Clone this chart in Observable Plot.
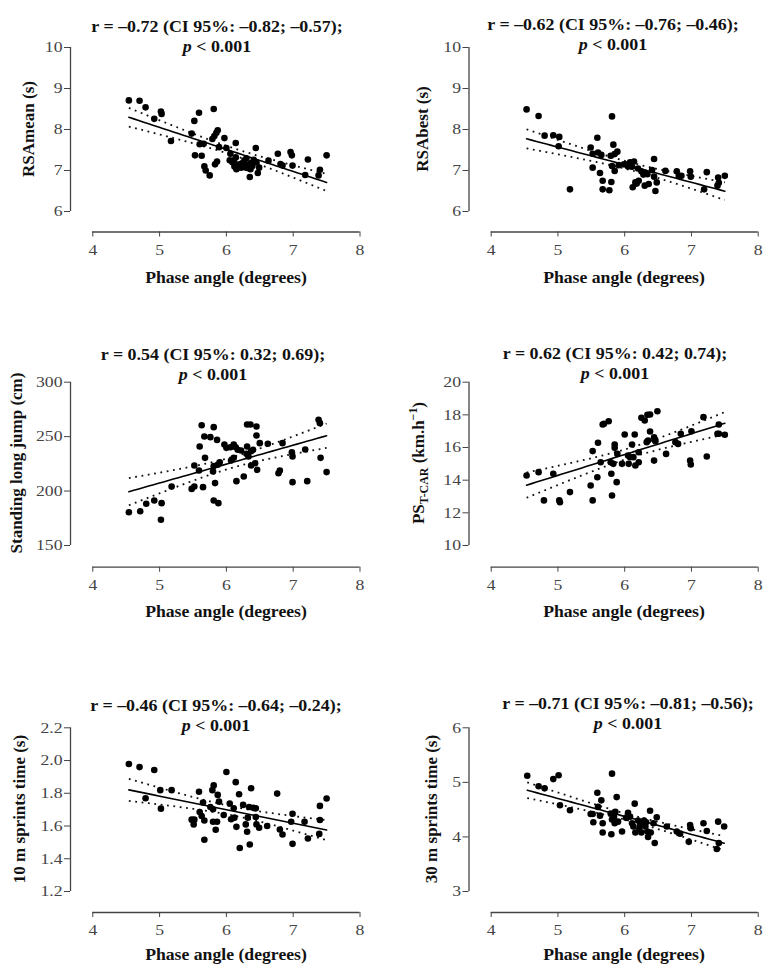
<!DOCTYPE html>
<html>
<head>
<meta charset="utf-8">
<script src="https://cdn.jsdelivr.net/npm/d3@7"></script>
<script src="https://cdn.jsdelivr.net/npm/@observablehq/plot@0.6"></script>
<style>
  html, body { margin: 0; padding: 0; background: #fff; }
  #root { position: relative; width: 777px; height: 975px; overflow: hidden;
          font-family: "Liberation Serif", "Times New Roman", serif; color: #111; }
  .panel { position: absolute; }
  .panel svg text { font-family: "Liberation Serif", "Times New Roman", serif; }
  .title { position: absolute; font-weight: bold; font-size: 16px; line-height: 20px;
           text-align: center; white-space: nowrap; transform: translateX(-50%) scaleX(1.12); }
  .ylab { position: absolute; font-weight: bold; font-size: 17px; white-space: nowrap;
          transform: translate(-50%, -50%) rotate(-90deg); }
  .xlab { position: absolute; font-weight: bold; font-size: 17px; white-space: nowrap;
          transform: translate(-50%, -50%) scaleX(1.04); }
  sub { font-size: 70%; vertical-align: -0.3em; }
  sup { font-size: 70%; vertical-align: 0.6em; }
</style>
</head>
<body>
<div id="root"></div>
<script>
// ---------- data ----------
const xTicks = [4, 5, 6, 7, 8];
const xLabel = "Phase angle (degrees)";

const rsaMean = [[4.54,8.71],[4.70,8.70],[4.79,8.54],[4.92,8.26],[5.02,8.44],[5.03,8.38],[5.17,7.72],[5.48,7.90],[5.52,8.21],[5.59,8.41],[5.81,8.50],[5.53,7.37],[5.63,7.36],[5.60,7.64],[5.66,7.65],[5.67,7.10],[5.69,7.00],[5.75,6.88],[5.79,7.77],[5.82,7.84],[5.85,7.92],[5.87,7.98],[5.83,7.15],[5.86,7.22],[5.89,7.57],[5.97,7.79],[6.00,7.55],[6.06,7.41],[6.05,7.25],[6.11,7.24],[6.14,7.32],[6.14,7.67],[6.15,7.03],[6.19,7.15],[6.22,7.07],[6.27,7.25],[6.30,7.30],[6.31,7.14],[6.31,7.06],[6.35,6.84],[6.37,7.18],[6.39,7.11],[6.41,7.26],[6.44,7.55],[6.45,7.20],[6.47,6.94],[6.49,7.07],[6.63,7.24],[6.77,7.41],[6.81,7.16],[6.84,7.12],[6.96,7.45],[6.98,7.37],[6.99,7.12],[7.18,6.89],[7.22,7.27],[7.38,6.88],[7.40,7.02],[7.50,7.37],[6.09,7.20],[6.24,7.18],[6.28,7.08],[6.36,7.03],[6.12,7.10]];

const rsaBest = [[4.53,8.49],[4.71,8.33],[4.80,7.85],[4.93,7.86],[5.02,7.82],[5.01,7.59],[5.18,6.54],[5.49,7.56],[5.52,7.41],[5.59,7.80],[5.60,7.44],[5.65,7.38],[5.52,7.07],[5.63,6.94],[5.67,6.75],[5.67,6.54],[5.77,6.52],[5.80,6.72],[5.81,8.32],[5.83,7.63],[5.79,7.36],[5.85,7.40],[5.89,7.46],[5.81,7.11],[5.85,6.99],[5.91,7.13],[5.99,7.15],[6.04,7.15],[6.08,7.20],[6.14,7.22],[6.11,7.09],[6.12,6.59],[6.16,6.71],[6.21,6.75],[6.25,6.98],[6.30,6.95],[6.34,6.91],[6.30,6.63],[6.36,6.67],[6.44,7.28],[6.41,7.01],[6.44,6.85],[6.48,6.71],[6.46,6.50],[6.61,6.99],[6.78,6.98],[6.81,6.87],[6.85,6.87],[6.98,6.98],[6.99,6.85],[7.19,6.54],[7.23,6.96],[7.40,6.83],[7.39,6.63],[7.41,6.70],[7.50,6.87],[6.20,7.05],[6.05,7.10],[6.28,6.90],[6.18,6.68]];

const standingLongJump = [[4.54,180.6],[4.71,181.5],[4.80,188.3],[4.92,191.3],[5.03,188.9],[5.02,173.6],[5.18,204.2],[5.48,202.0],[5.52,204.2],[5.52,223.5],[5.59,218.9],[5.60,240.9],[5.63,260.5],[5.67,250.1],[5.68,230.5],[5.65,203.6],[5.76,249.5],[5.81,258.7],[5.86,247.0],[5.80,218.0],[5.81,222.9],[5.83,207.3],[5.81,191.3],[5.88,188.9],[5.87,224.1],[5.90,226.5],[5.97,242.8],[6.00,239.7],[6.06,240.3],[6.11,242.8],[6.14,240.3],[6.17,237.9],[6.22,237.3],[6.07,228.1],[6.11,230.5],[6.15,209.1],[6.26,213.4],[6.31,261.1],[6.36,261.1],[6.45,259.3],[6.45,251.0],[6.31,240.9],[6.30,234.2],[6.37,236.6],[6.40,237.9],[6.33,231.7],[6.37,223.5],[6.43,225.6],[6.46,219.5],[6.50,244.0],[6.62,243.4],[6.78,216.4],[6.80,218.9],[6.84,244.0],[6.98,235.7],[6.99,231.7],[6.99,208.2],[7.18,238.2],[7.21,209.1],[7.38,265.4],[7.40,262.4],[7.41,230.5],[7.50,217.4]];

const psTCar = [[4.53,14.29],[4.71,14.49],[4.79,12.76],[4.93,14.39],[5.02,12.76],[5.03,12.65],[5.18,13.27],[5.49,13.67],[5.52,12.76],[5.52,15.78],[5.59,14.18],[5.60,16.29],[5.64,15.10],[5.67,17.41],[5.69,17.45],[5.76,17.61],[5.79,15.10],[5.80,14.39],[5.81,13.06],[5.83,15.00],[5.85,16.18],[5.85,15.98],[5.89,15.61],[5.88,13.88],[5.96,15.00],[6.00,16.80],[6.05,15.51],[6.06,15.00],[6.13,15.41],[6.11,16.18],[6.15,16.80],[6.16,14.90],[6.21,15.10],[6.21,15.71],[6.25,17.82],[6.30,17.65],[6.34,18.00],[6.38,18.02],[6.35,16.43],[6.33,16.33],[6.38,16.98],[6.44,16.63],[6.45,16.49],[6.46,16.39],[6.44,15.20],[6.49,18.22],[6.62,15.61],[6.76,16.33],[6.80,16.22],[6.84,16.84],[7.00,17.00],[6.98,15.20],[6.99,14.96],[7.18,17.86],[7.23,15.45],[7.41,17.41],[7.39,16.84],[7.41,16.84],[7.50,16.78],[6.08,15.40]];

const sprint10 = [[4.54,1.979],[4.70,1.960],[4.79,1.770],[4.92,1.942],[5.01,1.819],[5.02,1.706],[5.18,1.819],[5.48,1.639],[5.51,1.610],[5.52,1.639],[5.59,1.809],[5.60,1.686],[5.63,1.661],[5.65,1.743],[5.67,1.634],[5.67,1.516],[5.76,1.716],[5.79,1.819],[5.81,1.848],[5.80,1.702],[5.80,1.626],[5.84,1.577],[5.86,1.626],[5.87,1.790],[5.89,1.749],[5.96,1.667],[6.00,1.930],[6.05,1.737],[6.07,1.641],[6.11,1.708],[6.12,1.651],[6.14,1.868],[6.15,1.595],[6.19,1.794],[6.20,1.466],[6.25,1.729],[6.29,1.610],[6.31,1.565],[6.32,1.651],[6.34,1.716],[6.37,1.831],[6.35,1.487],[6.40,1.712],[6.44,1.708],[6.44,1.655],[6.45,1.610],[6.49,1.589],[6.61,1.600],[6.76,1.798],[6.80,1.579],[6.84,1.548],[6.99,1.675],[6.97,1.626],[6.99,1.491],[7.17,1.626],[7.22,1.524],[7.39,1.552],[7.40,1.723],[7.40,1.637],[7.50,1.768]];

const sprint30 = [[4.54,5.12],[4.71,4.93],[4.80,4.89],[4.93,5.06],[5.01,5.13],[5.03,4.58],[5.18,4.49],[5.49,4.42],[5.52,4.42],[5.53,4.27],[5.59,4.81],[5.60,4.55],[5.65,4.67],[5.63,4.39],[5.67,4.25],[5.67,4.08],[5.80,4.05],[5.81,5.16],[5.79,4.43],[5.81,4.32],[5.84,4.37],[5.86,4.46],[5.88,4.73],[5.85,4.25],[5.90,4.28],[5.96,4.10],[6.05,4.44],[6.08,4.37],[6.11,4.25],[6.15,4.61],[6.13,4.19],[6.16,4.08],[6.20,4.30],[6.23,4.22],[6.25,4.08],[6.29,4.30],[6.31,4.19],[6.34,4.10],[6.35,4.00],[6.38,4.48],[6.39,4.08],[6.43,4.25],[6.45,3.89],[6.48,4.36],[6.63,4.19],[6.78,4.10],[6.83,4.06],[6.98,4.22],[6.99,4.16],[6.96,3.91],[7.18,4.25],[7.23,4.11],[7.40,4.28],[7.41,3.89],[7.38,3.78],[7.49,4.19],[6.02,4.35],[6.22,4.15],[6.32,4.27]];

const yTicksRsaMean = [6, 7, 8, 9, 10];
const yTicksRsaBest = [6, 7, 8, 9, 10];
const yTicksSlj = [150, 200, 250, 300];
const yTicksPs = [10, 12, 14, 16, 18, 20];
const yTicksSprint10 = [1.2, 1.4, 1.6, 1.8, 2.0, 2.2];
const yTicksSprint30 = [3, 4, 5, 6];

const titles = [
  "r = –0.72 (CI 95%: –0.82; –0.57);",
  "r = –0.62 (CI 95%: –0.76; –0.46);",
  "r = 0.54 (CI 95%: 0.32; 0.69);",
  "r = 0.62 (CI 95%: 0.42; 0.74);",
  "r = –0.46 (CI 95%: –0.64; –0.24);",
  "r = –0.71 (CI 95%: –0.81; –0.56);"
];
const pLine = "<i>p</i> &lt; 0.001";
const yLabels = [
  "RSAmean (s)",
  "RSAbest (s)",
  "Standing long jump (cm)",
  "PS<sub>T-CAR</sub> (km.h<sup>−1</sup>)",
  "10 m sprints time (s)",
  "30 m sprints time (s)"
];

// ---------- layout (page pixels) ----------
const cols = [
  {left: 0,   x4: 92.3,  x8: 359.5, yAxis: 70},
  {left: 389, x4: 490.7, x8: 757.7, yAxis: 468.5}
];
const rows = [
  {top: 0,   yTop: 47,    yBot: 211, xAxis: 231.5, xLab: 278},
  {top: 300, yTop: 381.7, yBot: 545, xAxis: 566.7, xLab: 612},
  {top: 645, yTop: 727.3, yBot: 891, xAxis: 912,   xLab: 955}
];
const panels = [
  {data: rsaMean, ticks: yTicksRsaMean, fmt: "d", col: 0, row: 0, tx: 217, ty: 17, lx: 29},
  {data: rsaBest, ticks: yTicksRsaBest, fmt: "d", col: 1, row: 0, tx: 613, ty: 15, lx: 423},
  {data: standingLongJump, ticks: yTicksSlj, fmt: "d", col: 0, row: 1, tx: 213, ty: 345, lx: 17},
  {data: psTCar, ticks: yTicksPs, fmt: "d", col: 1, row: 1, tx: 615, ty: 344, lx: 419},
  {data: sprint10, ticks: yTicksSprint10, fmt: ".1f", col: 0, row: 2, tx: 216, ty: 696, lx: 20},
  {data: sprint30, ticks: yTicksSprint30, fmt: "d", col: 1, row: 2, tx: 628, ty: 694, lx: 432}
];

const tCrit = 2.0; // two-sided 95% t quantile, df ≈ 60
function regression(data) {
  const n = data.length;
  const mx = d3.mean(data, d => d[0]), my = d3.mean(data, d => d[1]);
  const sxx = d3.sum(data, d => (d[0] - mx) ** 2);
  const sxy = d3.sum(data, d => (d[0] - mx) * (d[1] - my));
  const b = sxy / sxx, a = my - b * mx;
  const s = Math.sqrt(d3.sum(data, d => (d[1] - a - b * d[0]) ** 2) / (n - 2));
  const [x0, x1] = d3.extent(data, d => d[0]);
  return d3.range(41).map(i => {
    const x = x0 + (x1 - x0) * i / 40;
    const yh = a + b * x;
    const h = tCrit * s * Math.sqrt(1 / n + (x - mx) ** 2 / sxx);
    return {x, fit: yh, lo: yh - h, hi: yh + h};
  });
}

const root = document.getElementById("root");
const axisColor = "#444";
const tickFont = {fontFamily: "Liberation Serif", fontSize: 15};
const tickStretch = 1.18;
const W = 388;

panels.forEach((p, i) => {
  const c = cols[p.col], r = rows[p.row];
  const H = r.xAxis - r.top + 40;
  const marginLeft = c.x4 - c.left;
  const marginRight = c.left + W - c.x8;
  const marginTop = r.yTop - r.top;
  const marginBottom = H - (r.yBot - r.top);
  const gapX = c.x4 - c.yAxis;
  const gapY = r.xAxis - r.yBot;
  const yDomain = d3.extent(p.ticks);
  const band = regression(p.data);
  const dotted = {stroke: "#111", strokeWidth: 1.8, strokeDasharray: "1.8 4.6", strokeLinecap: "butt"};

  const chart = Plot.plot({
    width: W, height: H,
    marginLeft, marginRight, marginTop, marginBottom,
    x: {domain: [xTicks[0], xTicks[xTicks.length - 1]]},
    y: {domain: yDomain},
    style: {background: "transparent", overflow: "visible",
            fontFamily: "'Liberation Serif', 'Times New Roman', serif", fontSize: "15px", color: "#444"},
    marks: [
      Plot.ruleX([xTicks[0]], {dx: -gapX, stroke: axisColor, strokeWidth: 1.3}),
      Plot.ruleY([yDomain[0]], {dy: gapY, stroke: axisColor, strokeWidth: 1.3}),
      Plot.axisY(p.ticks, {anchor: "left", dx: -gapX, tickSize: 6, tickPadding: 2, ...tickFont,
                           tickFormat: d3.format(p.fmt), label: null, stroke: axisColor, fill: "#444"}),
      Plot.axisX(xTicks, {anchor: "bottom", dy: gapY, tickSize: 5, tickPadding: 7, ...tickFont,
                          tickFormat: d3.format("d"), label: null, stroke: axisColor, fill: "#444"}),
      Plot.line(band, {x: "x", y: "hi", ...dotted}),
      Plot.line(band, {x: "x", y: "lo", ...dotted}),
      Plot.line(band, {x: "x", y: "fit", stroke: "#000", strokeWidth: 1.6}),
      Plot.dot(p.data, {x: d => d[0], y: d => d[1], r: 3.3, fill: "#000", stroke: "none"})
    ]
  });

  // widen the tick labels horizontally, as in the reference typesetting
  chart.querySelectorAll('g[aria-label$="tick label"] text').forEach(t => {
    const tr = t.getAttribute("transform") || "";
    t.setAttribute("transform", tr + ` scale(${tickStretch},1)`);
  });

  const holder = document.createElement("div");
  holder.className = "panel";
  holder.style.left = c.left + "px";
  holder.style.top = r.top + "px";
  holder.appendChild(chart);
  root.appendChild(holder);

  const t = document.createElement("div");
  t.className = "title";
  t.style.left = p.tx + "px";
  t.style.top = p.ty + "px";
  t.innerHTML = titles[i] + "<br>" + pLine;
  root.appendChild(t);

  const yl = document.createElement("div");
  yl.className = "ylab";
  yl.style.left = p.lx + "px";
  yl.style.top = ((r.yTop + r.yBot) / 2) + "px";
  yl.innerHTML = yLabels[i];
  root.appendChild(yl);

  const xl = document.createElement("div");
  xl.className = "xlab";
  xl.style.left = ((c.x4 + c.x8) / 2) + "px";
  xl.style.top = r.xLab + "px";
  xl.textContent = xLabel;
  root.appendChild(xl);
});
</script>
</body>
</html>
